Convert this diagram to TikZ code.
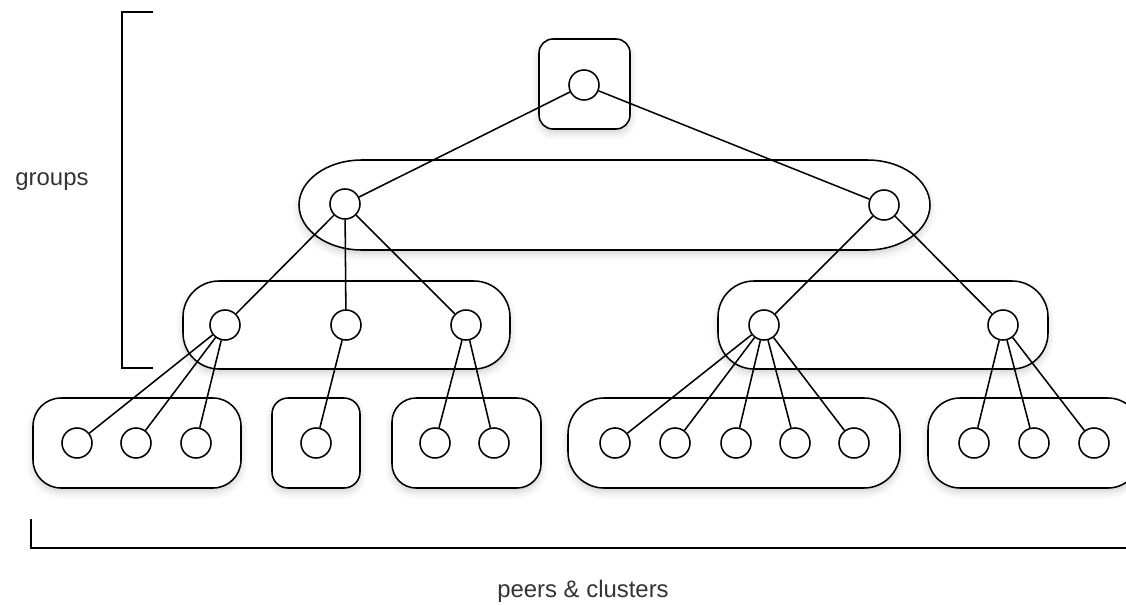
\documentclass[tikz,border=0pt]{standalone}
\usepackage{fontspec}
\setmainfont{Liberation Sans}
\usepackage{tikz}
\usetikzlibrary{positioning,shadows.blur}

\tikzset{
  peer/.style={circle, draw, fill=white, line width=1.1pt, minimum size=0.75cm, inner sep=0pt},
  grp/.style={draw, fill=white, line width=1.1pt,
    blur shadow={shadow xshift=0pt, shadow yshift=-3pt, shadow blur radius=5pt, shadow opacity=18}},
  link/.style={line width=1.1pt},
  brace/.style={line width=1.1pt},
  lbl/.style={font=\fontsize{17}{20}\selectfont, text=black!80}
}

\begin{document}
\begin{tikzpicture}[x=0.025cm, y=-0.025cm]

\useasboundingbox (0,0) rectangle (1126,605);

% Groups
\draw[grp, rounded corners=0.35cm] (539,39) rectangle (630,129);
\draw[grp] (362,160) -- (867,160) arc[start angle=-90, end angle=90, x radius=63, y radius=45]
  -- (362,250) arc[start angle=90, end angle=270, x radius=63, y radius=45] -- cycle;
\draw[grp, rounded corners=0.9cm] (183,281) rectangle (510,369);
\draw[grp, rounded corners=0.9cm] (718,281) rectangle (1048,369);

% Clusters
\draw[grp, rounded corners=0.7cm] (33,398) rectangle (241,488);
\draw[grp, rounded corners=0.4cm] (272,398) rectangle (360,488);
\draw[grp, rounded corners=0.6cm] (392,398) rectangle (541,488);
\draw[grp, rounded corners=0.9cm] (568,398) rectangle (900,488);
\draw[grp, rounded corners=0.8cm] (928,398) rectangle (1140,488);

% Root and groups
\node[peer] (root) at (584,85) {};
\node[peer] (ga) at (345,204) {};
\node[peer] (gb) at (884,205) {};

\node[peer] (ha) at (225,325) {};
\node[peer] (hb) at (346,325) {};
\node[peer] (hc) at (466,325) {};
\node[peer] (hd) at (764,325) {};
\node[peer] (he) at (1003,325) {};

% Peers
\node[peer] (p1) at (77,443) {};
\node[peer] (p2) at (136,443) {};
\node[peer] (p3) at (196,443) {};
\node[peer] (p4) at (316,443) {};
\node[peer] (p5) at (435,443) {};
\node[peer] (p6) at (494,443) {};
\node[peer] (p7) at (615,443) {};
\node[peer] (p8) at (675,443) {};
\node[peer] (p9) at (736,443) {};
\node[peer] (p10) at (795,443) {};
\node[peer] (p11) at (854,443) {};
\node[peer] (p12) at (974,443) {};
\node[peer] (p13) at (1034,443) {};
\node[peer] (p14) at (1094,443) {};

% Links
\foreach \a/\b in {root/ga, root/gb, ga/ha, ga/hb, ga/hc, gb/hd, gb/he,
  ha/p1, ha/p2, ha/p3, hb/p4, hc/p5, hc/p6,
  hd/p7, hd/p8, hd/p9, hd/p10, hd/p11, he/p12, he/p13, he/p14}
  \draw[link] (\a) -- (\b);

% Brackets
\coordinate (gt) at (153,12);
\coordinate (gbt) at (153,368);
\draw[brace] (gt) -- (122,12) -- (122,368) -- (gbt);
\coordinate (pl) at (31,519);
\coordinate (pr) at (1126,548);
\draw[brace] (pl) -- (31,548) -- (pr);

% Labels
\node[lbl] (groups) at (52,182) {groups};
\node[lbl] (peers) at (583,591) {peers \& clusters};

\end{tikzpicture}
\end{document}
